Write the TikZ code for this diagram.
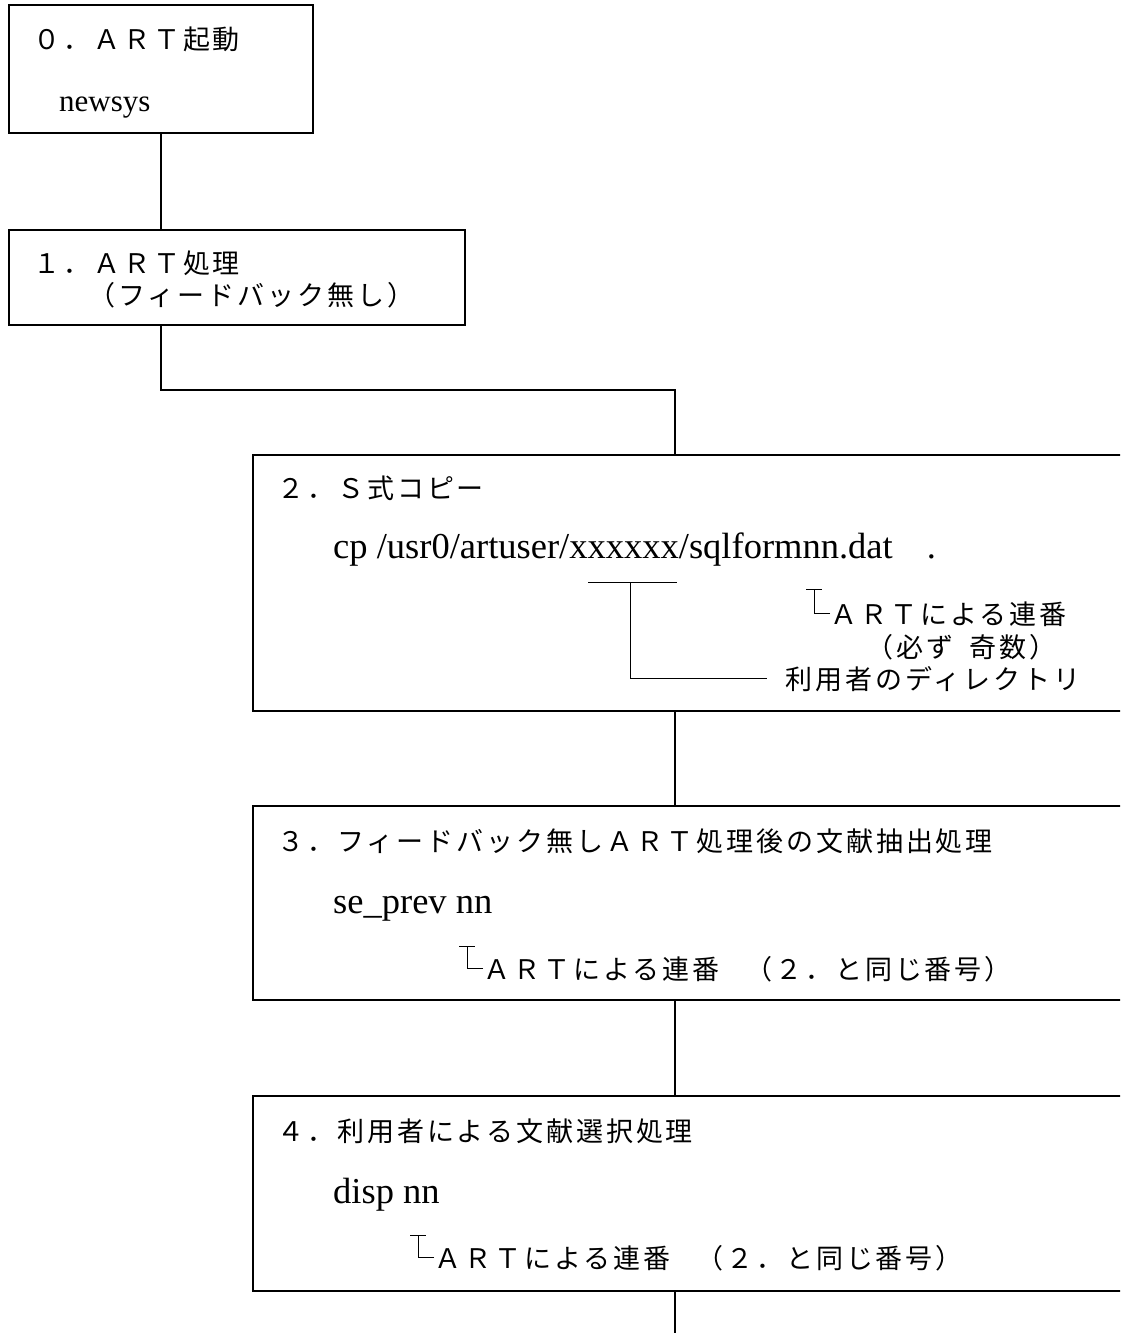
\documentclass[tikz,border=0pt]{standalone}
\usepackage{fontspec}
\setmainfont{Liberation Serif}
\newfontfamily\jpfont[LetterSpace=11]{Noto Sans CJK JP}
\usetikzlibrary{calc}
\begin{document}
\begin{tikzpicture}[x=1pt,y=-1pt,
  box/.style={draw, line width=1.2pt, inner sep=0pt, outer sep=0pt},
  jp/.style={font=\jpfont\fontsize{27}{31}\selectfont, anchor=base west, inner sep=0pt},
  lat/.style={font=\fontsize{36.5}{42}\selectfont, anchor=base west, inner sep=0pt},
  conn/.style={line width=1.2pt},
  brk/.style={line width=1pt}]
\useasboundingbox (0,0) rectangle (1120,1333);
\clip (0,0) rectangle (1120,1333);
% boxes
\node[box, minimum width=304pt, minimum height=128pt] (b0) at (161,69) {};
\node[box, minimum width=456pt, minimum height=95pt] (b1) at (237,277.5) {};
\node[box, minimum width=877pt, minimum height=256pt] (b2) at (691.5,583) {};
\node[box, minimum width=877pt, minimum height=194pt] (b3) at (691.5,903) {};
\node[box, minimum width=877pt, minimum height=195pt] (b4) at (691.5,1193.5) {};
\coordinate (spine) at (675,0);
\coordinate (bend) at (675,390);
\coordinate (tail) at (675,1340);
% connectors
\draw[conn] (b0.south) -- (b0.south |- b1.north);
\draw[conn] (b1.south -| b0.south) |- (bend) -- (b2.north -| spine);
\draw[conn] (b2.south -| spine) -- (b3.north -| spine);
\draw[conn] (b3.south -| spine) -- (b4.north -| spine);
\draw[conn] (b4.south -| spine) -- (tail);
% box 0
\node[jp] (t0) at (33,49) {０．ＡＲＴ起動};
\node[lat, font=\fontsize{31}{36}\selectfont] (c0) at (59,111) {newsys};
% box 1
\node[jp] (t1) at (33,273) {１．ＡＲＴ処理};
\node[jp] (s1) at (88,305) {（フィードバック無し）};
% box 2
\node[jp] (t2) at (277,498) {２．Ｓ式コピー};
\node[lat] (c2) at (333,558) {cp /usr0/artuser/xxxxxx/sqlformnn.dat\hspace{34pt}.};
\node[jp] (a2) at (830,624) {ＡＲＴによる連番};
\node[jp] (o2) at (866,657) {（必ず\hspace{16pt}奇数）};
\node[jp] (d2) at (785,689) {利用者のディレクトリ};
\coordinate (ux) at (630,582);
\draw[brk] ($(ux)+(-42,0)$) -- ++(89,0);
\draw[brk] (ux) |- ($(d2.west)+(-18,0)$);
\draw[brk] (a2.west) -- ++(-16,0) -- ++(0,-24);
\draw[brk] ($(a2.west)+(-24,-24)$) -- ++(16,0);
% box 3
\node[jp] (t3) at (277,851) {３．フィードバック無しＡＲＴ処理後の文献抽出処理};
\node[lat] (c3) at (333,913) {se\_prev nn};
\node[jp] (a3) at (483,979) {ＡＲＴによる連番\hspace{26pt}（２．と同じ番号）};
\draw[brk] (a3.west) -- ++(-16,0) -- ++(0,-22);
\draw[brk] ($(a3.west)+(-24,-22)$) -- ++(16,0);
% box 4
\node[jp] (t4) at (277,1141) {４．利用者による文献選択処理};
\node[lat] (c4) at (333,1203) {disp nn};
\node[jp] (a4) at (434,1268) {ＡＲＴによる連番\hspace{26pt}（２．と同じ番号）};
\draw[brk] (a4.west) -- ++(-16,0) -- ++(0,-22);
\draw[brk] ($(a4.west)+(-24,-22)$) -- ++(16,0);
\end{tikzpicture}
\end{document}
